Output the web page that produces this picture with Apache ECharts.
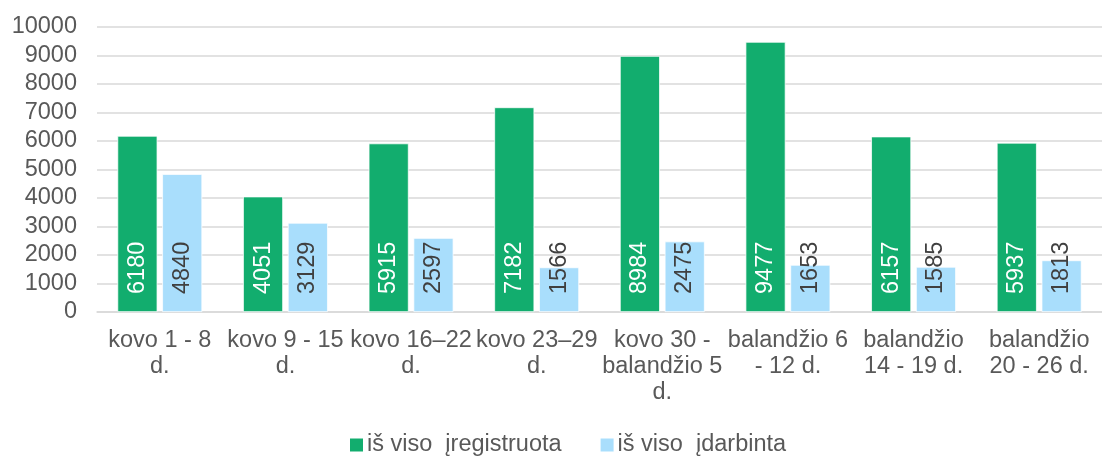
<!DOCTYPE html>
<html><head><meta charset="utf-8">
<script src="https://cdn.jsdelivr.net/npm/echarts@6/dist/echarts.min.js"></script>
<style>html,body{margin:0;padding:0;background:#fff}#c{width:1102px;height:456px}</style>
</head><body><div id="c"></div>
<script>
const categories = ["kovo 1 - 8\nd.", "kovo 9 - 15\nd.", "kovo 16–22\nd.", "kovo 23–29\nd.", "kovo 30 -\nbalandžio 5\nd.", "balandžio 6\n- 12 d.", "balandžio\n14 - 19 d.", "balandžio\n20 - 26 d."];
const registered = [6180, 4051, 5915, 7182, 8984, 9477, 6157, 5937];
const employed = [4840, 3129, 2597, 1566, 2475, 1653, 1585, 1813];
const seriesNames = ["iš viso  įregistruota", "iš viso  įdarbinta"];
const yTicks = {min: 0, max: 10000, interval: 1000};

const font = '"Liberation Sans", Arial, sans-serif';
const FS = 23.5;
const chart = echarts.init(document.getElementById('c'), null, {renderer: 'canvas'});
const lbl = (color) => ({
  show: true, position: 'insideBottom', distance: 18, rotate: 90,
  align: 'left', verticalAlign: 'middle',
  color: color, fontSize: FS, fontFamily: font
});
chart.setOption({
  animation: false,
  grid: {left: 97, right: 0, top: 27, bottom: 144},
  legend: {
    bottom: -6, left: 345, itemWidth: 13, itemHeight: 13, itemGap: 39,
    icon: 'rect',
    itemStyle: {borderWidth: 0},
    textStyle: {color: '#595959', fontSize: FS, fontFamily: font, padding: [0, 0, 0, -1]},
    data: seriesNames
  },
  xAxis: {
    type: 'category', data: categories,
    axisLine: {lineStyle: {color: '#d9d9d9', width: 1.5}},
    axisTick: {show: false},
    axisLabel: {color: '#595959', fontSize: FS, fontFamily: font, lineHeight: 26, interval: 0, margin: 16}
  },
  yAxis: {
    type: 'value', min: yTicks.min, max: yTicks.max, interval: yTicks.interval,
    axisLine: {show: false}, axisTick: {show: false},
    splitLine: {lineStyle: {color: '#d9d9d9', width: 1.5}},
    axisLabel: {color: '#595959', fontSize: FS, fontFamily: font, margin: 20, formatter: (v) => String(v)}
  },
  series: [
    {name: seriesNames[0], type: 'bar', data: registered, barWidth: 40, barGap: '12%',
     itemStyle: {color: '#12AD6E', borderColor: '#ffffff', borderWidth: 0.75}, label: lbl('#ffffff')},
    {name: seriesNames[1], type: 'bar', data: employed, barWidth: 40,
     itemStyle: {color: '#A9DEFC', borderColor: '#ffffff', borderWidth: 0.75}, label: lbl('#404040')}
  ]
});
</script></body></html>
